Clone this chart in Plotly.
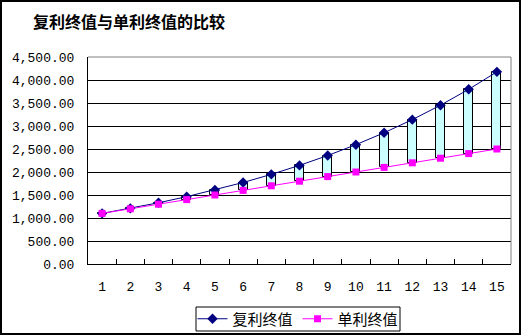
import plotly.graph_objects as go

periods = [str(i) for i in range(1, 16)]
compound = [1100.00, 1210.00, 1331.00, 1464.10, 1610.51, 1771.56, 1948.72, 2143.59,
            2357.95, 2593.74, 2853.12, 3138.43, 3452.27, 3797.50, 4177.25]
simple = [1100, 1200, 1300, 1400, 1500, 1600, 1700, 1800,
          1900, 2000, 2100, 2200, 2300, 2400, 2500]
name_compound = "复利终值"
name_simple = "单利终值"
title_text = "复利终值与单利终值的比较"

W, H = 522, 336
L, R, T, B = 88, 11, 57, 72
pw, ph = W - L - R, H - T - B

def px2x(px):
    return (px - L) / pw

def py2y(py):
    return (H - B - py) / ph

cjk = "Noto Sans CJK SC, sans-serif"
mono = "Liberation Mono, DejaVu Sans Mono, monospace"

fig = go.Figure()
fig.add_trace(go.Bar(
    x=periods, y=[c - s for c, s in zip(compound, simple)], base=simple,
    width=0.32, marker=dict(color="rgb(204,255,255)", line=dict(color="black", width=1)),
    showlegend=False, hoverinfo="skip"))
fig.add_trace(go.Scatter(
    x=periods, y=compound, name=name_compound, mode="lines+markers",
    line=dict(color="#000080", width=1),
    marker=dict(symbol="diamond", size=8, color="#000080")))
fig.add_trace(go.Scatter(
    x=periods, y=simple, name=name_simple, mode="lines+markers",
    line=dict(color="#FF00FF", width=1),
    marker=dict(symbol="square", size=7, color="#FF00FF")))

fig.update_layout(
    width=W, height=H,
    margin=dict(l=L, r=R, t=T, b=B, pad=0, autoexpand=False),
    paper_bgcolor="white", plot_bgcolor="white",
    title=dict(text=title_text, x=33 / W, xref="container", xanchor="left",
               y=1 - 22 / H, yref="container", yanchor="middle",
               font=dict(family=cjk, size=16, color="black", weight="bold")),
    showlegend=True,
    legend=dict(orientation="h", x=px2x(298), xanchor="center", y=py2y(319), yanchor="middle",
                borderwidth=0, bgcolor="rgba(0,0,0,0)",
                font=dict(family=cjk, size=15, color="black"),
                itemwidth=30, tracegroupgap=0),
    bargap=0,
    hovermode=False,
)
fig.update_xaxes(
    type="category", range=[-0.5, 14.5], showline=True, linecolor="black", linewidth=1,
    ticks="inside", tickson="boundaries", ticklen=5, tickcolor="black",
    showgrid=False, zeroline=False, ticklabelstandoff=10, automargin=False,
    tickfont=dict(family=mono, size=13, color="black"))
fig.update_yaxes(
    range=[0, 4500], dtick=500, tickformat=",.2f", showline=True, linecolor="black",
    linewidth=1, showgrid=True, gridcolor="black", gridwidth=1, zeroline=False,
    ticks="", ticklabelstandoff=10, automargin=False,
    tickfont=dict(family=mono, size=13, color="black"))

# plot area top and right border (gray)
fig.add_shape(type="line", xref="paper", yref="paper", x0=0, x1=1, y0=1, y1=1,
              line=dict(color="#808080", width=1), layer="above")
fig.add_shape(type="line", xref="paper", yref="paper", x0=1, x1=1, y0=0, y1=1,
              line=dict(color="#808080", width=1), layer="above")
# legend box
fig.add_shape(type="rect", xref="paper", yref="paper",
              x0=px2x(196), x1=px2x(400), y0=py2y(307), y1=py2y(331),
              line=dict(color="black", width=1), layer="above")
# chart outer border
fig.add_shape(type="rect", xref="paper", yref="paper",
              x0=px2x(1), x1=px2x(520), y0=py2y(1), y1=py2y(334),
              line=dict(color="black", width=2), layer="above")

fig.write_html("out.html", config={"displayModeBar": False})
